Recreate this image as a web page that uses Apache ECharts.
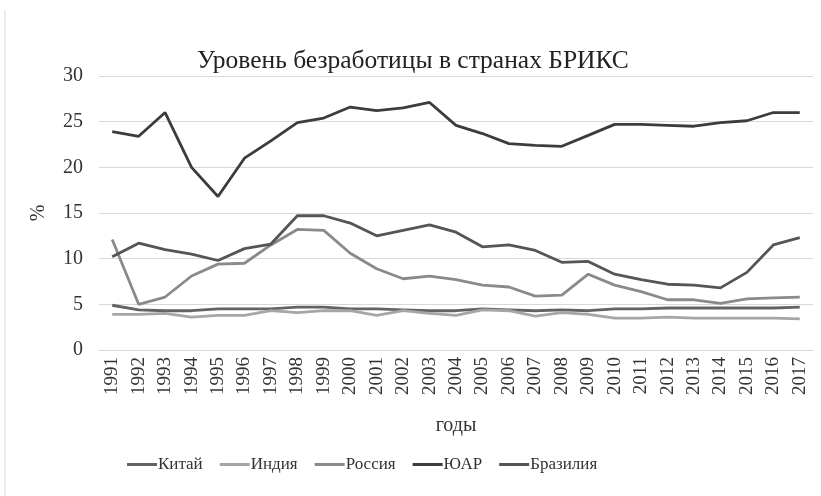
<!DOCTYPE html>
<html><head><meta charset="utf-8">
<script src="https://cdn.jsdelivr.net/npm/echarts@6/dist/echarts.min.js"></script>
<style>html,body{margin:0;padding:0;background:#fff}#c{width:821px;height:496px}</style>
</head><body><div id="c"></div>
<script>
const years = ['1991','1992','1993','1994','1995','1996','1997','1998','1999','2000','2001','2002','2003','2004','2005','2006','2007','2008','2009','2010','2011','2012','2013','2014','2015','2016','2017'];
const china  = [4.9,4.4,4.3,4.3,4.5,4.5,4.5,4.7,4.7,4.5,4.5,4.4,4.3,4.3,4.5,4.4,4.3,4.4,4.3,4.5,4.5,4.6,4.6,4.6,4.6,4.6,4.7];
const india  = [3.9,3.9,4.0,3.6,3.8,3.8,4.3,4.1,4.3,4.3,3.8,4.3,4.0,3.8,4.4,4.3,3.7,4.1,3.9,3.5,3.5,3.6,3.5,3.5,3.5,3.5,3.4];
const russia = [12.1,5.0,5.8,8.1,9.4,9.5,11.5,13.2,13.1,10.6,8.9,7.8,8.1,7.7,7.1,6.9,5.9,6.0,8.3,7.1,6.4,5.5,5.5,5.1,5.6,5.7,5.8];
const sar    = [23.9,23.4,26.0,20.0,16.8,21.0,22.9,24.9,25.4,26.6,26.2,26.5,27.1,24.6,23.7,22.6,22.4,22.3,23.5,24.7,24.7,24.6,24.5,24.9,25.1,26.0,26.0];
const brazil = [10.2,11.7,11.0,10.5,9.8,11.1,11.6,14.7,14.7,13.9,12.5,13.1,13.7,12.9,11.3,11.5,10.9,9.6,9.7,8.3,7.7,7.2,7.1,6.8,8.5,11.5,12.3];
const names = ['Китай','Индия','Россия','ЮАР','Бразилия'];
const colors = ['#636363','#a6a6a6','#8a8a8a','#3c3c3c','#555555'];
const values = [china, india, russia, sar, brazil];
const FONT = 'Liberation Serif';
const chart = echarts.init(document.getElementById('c'));
chart.setOption({
  animation: false,
  textStyle: {fontFamily: FONT},
  title: {text: 'Уровень безработицы в странах БРИКС', left: 192, top: 43,
    textStyle: {fontFamily: FONT, fontSize: 25.5, fontWeight: 'normal', color: '#222'}},
  graphic: [{type: 'line', shape: {x1: 5, y1: 10, x2: 5, y2: 496}, style: {stroke: '#d9d9d9', lineWidth: 1}}],
  grid: {left: 99, right: 8, top: 76, bottom: 146},
  legend: {data: names, top: 451, left: 122, icon: 'rect', itemWidth: 30, itemHeight: 3, itemGap: 17,
    textStyle: {fontFamily: FONT, fontSize: 17, color: '#333', padding: [0,0,0,-4]}},
  xAxis: {type: 'category', data: years, boundaryGap: true,
    axisLine: {lineStyle: {color: '#d9d9d9'}}, axisTick: {show: false},
    axisLabel: {rotate: 90, fontFamily: FONT, fontSize: 19, color: '#333', margin: 7},
    name: 'годы', nameLocation: 'middle', nameGap: 66,
    nameTextStyle: {fontFamily: FONT, fontSize: 20, color: '#333'}},
  yAxis: {type: 'value', min: 0, max: 30, interval: 5,
    axisLine: {show: false}, axisTick: {show: false},
    splitLine: {lineStyle: {color: '#d9d9d9'}},
    axisLabel: {fontFamily: FONT, fontSize: 20, color: '#333', margin: 16},
    name: '%', nameLocation: 'middle', nameGap: 50, nameRotate: 90,
    nameTextStyle: {fontFamily: FONT, fontSize: 20, color: '#333'}},
  series: names.map((n, i) => ({name: n, type: 'line', data: values[i], showSymbol: false, symbol: 'none',
    lineStyle: {width: 2.8, color: colors[i]}, itemStyle: {color: colors[i]}}))
});
</script></body></html>
